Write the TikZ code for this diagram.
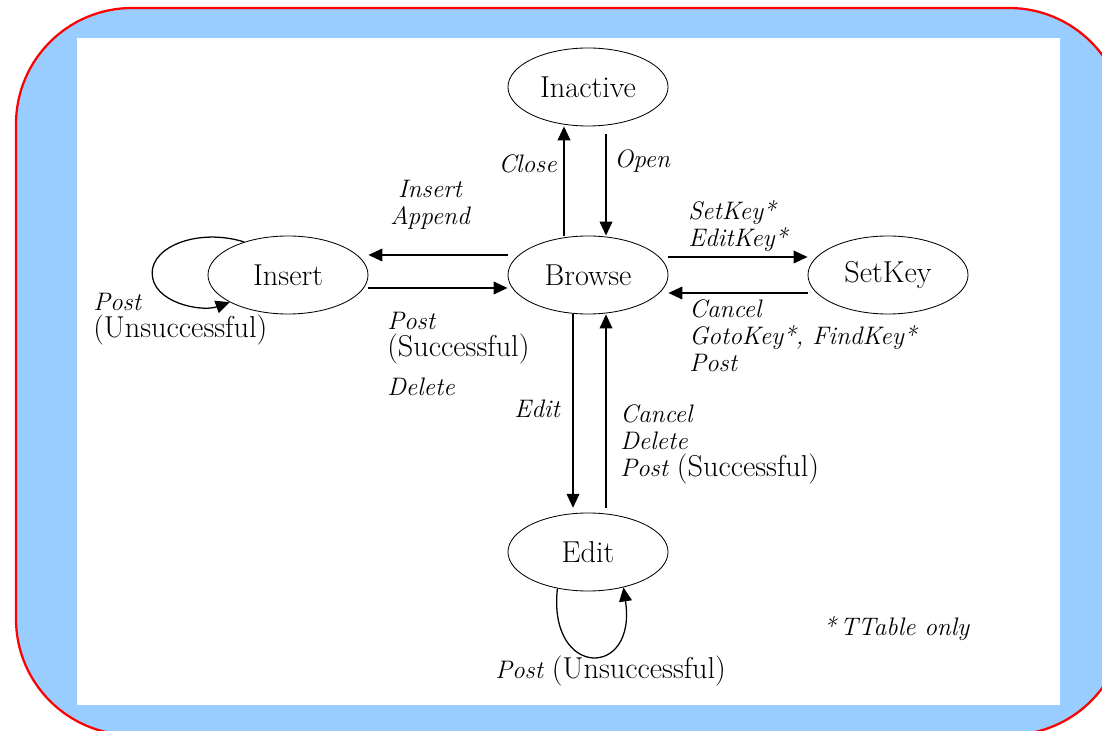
\documentclass[tikz,border=0pt]{standalone}
\usetikzlibrary{
  arrows.meta,
  shapes.geometric
}
\definecolor{framefill}{RGB}{153,204,255}
\definecolor{framered}{RGB}{255,0,0}
\newcommand{\diagfont}{\fontsize{18}{19.5}\selectfont}
\newcommand{\statefont}{\fontsize{21.5}{23}\selectfont}
\newcommand{\uptext}[1]{{\statefont\upshape #1}}
\tikzset{
  >={Triangle[length=3.5mm,width=3.2mm]},
  flow/.style={->,line width=0.9pt,draw=black},
  state/.style={
    ellipse,
    draw=black,
    line width=0.6pt,
    fill=white,
    font=\statefont,
    minimum width=4cm,
    minimum height=1.95cm,
    inner sep=0pt
  },
  lbl/.style={font=\diagfont\itshape,inner sep=0pt,align=left}
}

\begin{document}
\begin{tikzpicture}[x=0.025cm,y=0.025cm,font=\diagfont]
  % Page, blue frame and white sheet.
  \useasboundingbox (0,0) rectangle (1102,730);
  \clip (0,0) rectangle (1102,730);
  \draw[framered,fill=framefill,line width=1.6pt,rounded corners=2.9cm]
    (16,722) rectangle (1125,-5);
  \fill[white] (77,25) rectangle (1060,692);

  % States.
  \node[state] (ina) at (588,643) {Inactive};
  \node[state] (brw) at (588,455) {Browse};
  \node[state] (ins) at (288,455) {Insert};
  \node[state] (sk)  at (888,455) {SetKey};
  \node[state] (edt) at (588,178) {Edit};

  % Browse <-> Inactive.
  \draw[flow] ([xshift=-0.6cm]brw.north) -- ([xshift=-0.6cm]ina.south);
  \draw[flow] ([xshift=0.45cm,yshift=-0.2cm]ina.south) -- ([xshift=0.45cm]brw.north);
  \node[lbl,anchor=base east] (lclose) at (557,557) {Close};
  \node[lbl,anchor=base west] (lopen) at (614,562) {Open};

  % Browse <-> Insert.
  \draw[flow] ([yshift=0.5cm]brw.west) -- ([yshift=0.5cm]ins.east);
  \draw[flow] ([yshift=-0.325cm]ins.east) -- ([yshift=-0.325cm]brw.west);
  \draw[flow] (ins.143) .. controls +(-45,14) and +(0,27) .. ++(-92,-31)
    .. controls +(0,-30) and +(-28,-10) .. (ins.205);
  \node[lbl,align=center,anchor=north] (lins) at (430,550) {Insert\\Append};
  \node[lbl,anchor=north west] (lpost) at (387,418)
    {Post\\\uptext{(Successful)}\\[0.28cm]Delete};
  \node[lbl,anchor=north west] (linsloop) at (93,437)
    {Post\\\uptext{(Unsuccessful)}};

  % Browse <-> SetKey.
  \draw[flow] ([yshift=0.45cm]brw.east) -- ([yshift=0.45cm]sk.west);
  \draw[flow] ([yshift=-0.45cm]sk.west) -- ([yshift=-0.45cm]brw.east);
  \node[lbl,anchor=north west] (lsk) at (688,530) {SetKey*\\EditKey*};
  \node[lbl,anchor=north west] (lskback) at (689,431)
    {Cancel\\GotoKey*, FindKey*\\Post};

  % Browse <-> Edit.
  \draw[flow] ([xshift=-0.375cm]brw.south) -- ([xshift=-0.375cm,yshift=0.12cm]edt.north);
  \draw[flow] ([xshift=0.45cm,yshift=0.12cm]edt.north) -- ([xshift=0.45cm]brw.south);
  \draw[flow] (edt.230) .. controls +(-10,-90) and +(14,-92) .. (edt.315);
  \node[lbl,anchor=base east] (ledit) at (560,312) {Edit};
  \node[lbl,anchor=north west] (leditback) at (620,326)
    {Cancel\\Delete\\Post \uptext{(Successful)}};
  \node[lbl,anchor=base west] (leditloop) at (495,52) {Post \uptext{(Unsuccessful)}};

  % Footnote.
  \node[lbl,anchor=base west] (lnote) at (823,95) {*\,TTable only};
\end{tikzpicture}
\end{document}
